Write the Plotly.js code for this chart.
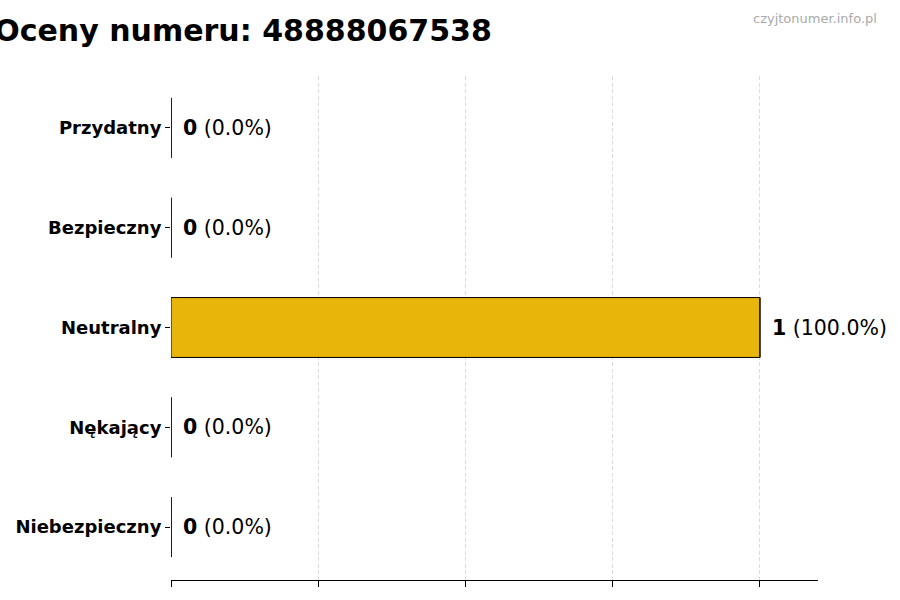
<!DOCTYPE html>
<html>
<head>
<meta charset="utf-8">
<script src="https://cdn.plot.ly/plotly-3.0.1.min.js"></script>
<style>
  body { margin: 0; background: #fff; }
  #chart { width: 900px; height: 600px; }
</style>
</head>
<body>
<div id="chart"></div>
<script>
const categories = ["Przydatny", "Bezpieczny", "Neutralny", "Nękający", "Niebezpieczny"];
const counts = [0, 0, 1, 0, 0];
const xTicks = [0, 0.25, 0.5, 0.75, 1];
const phoneNumber = "48888067538";

const total = counts.reduce((a, b) => a + b, 0);
const labels = counts.map(v => `<b>${v}</b> (${(total ? v / total * 100 : 0).toFixed(1)}%)`);

const font = "DejaVu Sans";

const bars = {
  type: "bar",
  orientation: "h",
  x: counts,
  y: categories,
  width: 0.6,
  marker: { color: "#e8b50b", line: { color: "#000", width: 1 } },
  hoverinfo: "skip"
};

// outline of the bars that have no width (matplotlib still draws it)
// line-ns is 1.4 * size tall, the bars are 60px tall
const edges = {
  type: "scatter",
  mode: "markers",
  x: counts,
  y: categories,
  marker: { symbol: "line-ns-open", size: 60 / 1.4, color: "#000", line: { color: "#000", width: 1 } },
  hoverinfo: "skip"
};

const notes = categories.map((c, i) => ({
  x: counts[i], y: c, xref: "x", yref: "y",
  text: labels[i], showarrow: false,
  xanchor: "left", yanchor: "middle", xshift: 10,
  font: { family: font, size: 20.5, color: "#000" }
}));

notes.push({
  xref: "paper", yref: "paper", x: 1.094, y: 1.115,
  xanchor: "right", yanchor: "middle",
  text: "czyjtonumer.info.pl", showarrow: false,
  font: { family: font, size: 13, color: "#aaaaaa" }
});

const layout = {
  width: 900,
  height: 600,
  margin: { l: 171, r: 82, t: 76, b: 20 },
  paper_bgcolor: "#fff",
  plot_bgcolor: "#fff",
  showlegend: false,
  font: { family: font, color: "#000" },
  title: {
    text: "Oceny numeru: " + phoneNumber,
    font: { family: font, size: 30, weight: "bold", color: "#000" },
    xref: "container", x: 0.27, xanchor: "center",
    yref: "container", y: 0.95, yanchor: "middle"
  },
  xaxis: {
    range: [0, 1.0985],
    tickvals: xTicks,
    showticklabels: false,
    ticks: "outside", ticklen: 6, tickcolor: "#000", tickwidth: 1,
    showline: true, linecolor: "#000", linewidth: 1.2,
    showgrid: true, gridcolor: "#dcdcdc", griddash: "4px,2.5px", gridwidth: 1,
    zeroline: false
  },
  yaxis: {
    type: "category",
    categoryorder: "array",
    categoryarray: categories,
    range: [4.53, -0.52],
    ticks: "outside", ticklen: 5, tickcolor: "#000",
    showline: false, showgrid: false, zeroline: false,
    tickfont: { family: font, size: 18, weight: "bold", color: "#000" }
  },
  annotations: notes
};

Plotly.newPlot("chart", [bars, edges], layout, { displayModeBar: false, staticPlot: true });
</script>
</body>
</html>
